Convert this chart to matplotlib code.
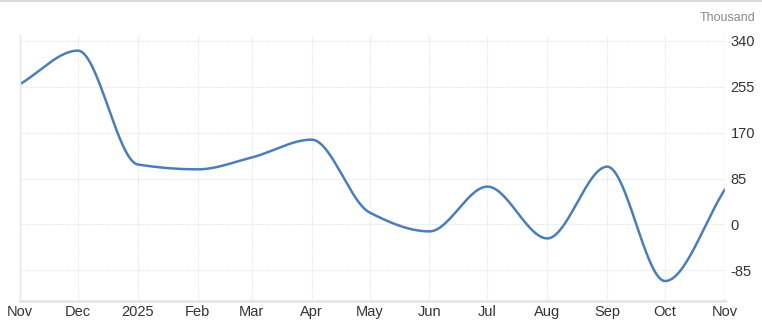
import numpy as np
import matplotlib
matplotlib.use("Agg")
import matplotlib.pyplot as plt
import matplotlib.dates as mdates
from datetime import datetime

plt.rcParams['font.family'] = ['Liberation Sans', 'DejaVu Sans']
plt.rcParams['axes.unicode_minus'] = False

# monthly values, thousand
months = ["2024-11", "2024-12", "2025-01", "2025-02", "2025-03", "2025-04", "2025-05",
          "2025-06", "2025-07", "2025-08", "2025-09", "2025-10", "2025-11"]
values = [260, 322, 111, 102, 124, 157, 22, -13, 70, -26, 107, -105, 65]
tick_labels = ["Nov", "Dec", "2025", "Feb", "Mar", "Apr", "May", "Jun", "Jul",
               "Aug", "Sep", "Oct", "Nov"]
y_ticks = [-85, 0, 85, 170, 255, 340]


def pchip(x, y, xs):
    # monotone cubic, flat at local extremes
    x = np.asarray(x, float)
    y = np.asarray(y, float)
    h = np.diff(x)
    d = np.diff(y) / h
    m = np.zeros_like(y)
    for i in range(1, len(y) - 1):
        if d[i - 1] * d[i] > 0:
            w1 = 2 * h[i] + h[i - 1]
            w2 = h[i] + 2 * h[i - 1]
            m[i] = (w1 + w2) / (w1 / d[i - 1] + w2 / d[i])
    m[0] = d[0]
    m[-1] = d[-1]
    out = np.empty_like(xs)
    idx = np.clip(np.searchsorted(x, xs) - 1, 0, len(x) - 2)
    for j, xv in enumerate(xs):
        i = idx[j]
        t = (xv - x[i]) / h[i]
        h00 = 2 * t**3 - 3 * t**2 + 1
        h10 = t**3 - 2 * t**2 + t
        h01 = -2 * t**3 + 3 * t**2
        h11 = t**3 - t**2
        out[j] = h00 * y[i] + h10 * h[i] * m[i] + h01 * y[i + 1] + h11 * h[i] * m[i + 1]
    return out


dates = [datetime.strptime(m, "%Y-%m") for m in months]
xnum = mdates.date2num(dates)
xs = np.linspace(xnum[0], xnum[-1], 800)
ys = pchip(xnum, values, xs)

fig = plt.figure(figsize=(7.62, 3.23), dpi=100)
ax = fig.add_axes([20 / 762, 22 / 323, 705 / 762, 266 / 323])

ax.plot(xs, ys, color="#4a7ebb", lw=1.8, solid_capstyle="round")

ax.set_xlim(xnum[0], xnum[-1])
ax.set_ylim(-142, 351)
ax.set_xticks(xnum)
ax.set_xticklabels(tick_labels)
ax.set_yticks(y_ticks)
ax.yaxis.tick_right()
ax.tick_params(axis='both', length=0, labelsize=10.5, colors="#333333")
ax.tick_params(axis='x', pad=3)
ax.tick_params(axis='y', pad=4)
ax.grid(True, color="#e3e3e3", ls=(0, (1, 1)), lw=0.8)

for s in ["top", "right"]:
    ax.spines[s].set_visible(False)
ax.spines["left"].set_color("#e6e6e6")
ax.spines["bottom"].set_color("#e6e6e6")
ax.spines["bottom"].set_linewidth(2)
ax.spines["left"].set_linewidth(1)
ax.axvline(xnum[-1], color="#e6e6e6", lw=1)

fig.text(755 / 762, 1 - 18 / 323, "Thousand", ha="right", va="center",
         fontsize=9, color="#8a8a8a")
fig.add_artist(plt.Line2D([0, 1], [1 - 0.5 / 323, 1 - 0.5 / 323],
                          transform=fig.transFigure, color="#d9d9d9", lw=1.5))

fig.savefig("out.png", dpi=100)
